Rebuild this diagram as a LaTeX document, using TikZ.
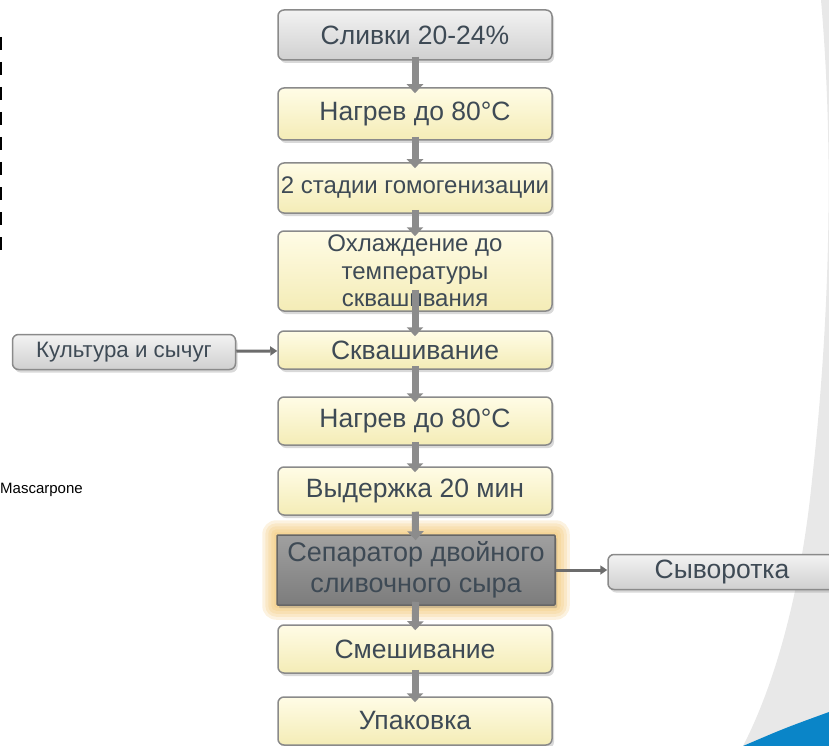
\documentclass[tikz,border=0pt]{standalone}
\usepackage{fontspec}
\setmainfont{Liberation Sans}
\usetikzlibrary{arrows.meta,shadows,backgrounds}
\definecolor{textgray}{HTML}{3E4A55}
\definecolor{edgegray}{HTML}{8A8A8A}
\definecolor{yeltop}{HTML}{FFFCE6}
\definecolor{yelbot}{HTML}{F4ECB6}
\definecolor{graytop}{HTML}{F2F2F2}
\definecolor{graybot}{HTML}{D0D0D0}
\definecolor{darktop}{HTML}{A0A0A0}
\definecolor{darkbot}{HTML}{7C7C7C}
\definecolor{arrowgray}{HTML}{8C8C8C}
\definecolor{glowcolor}{HTML}{F0C064}
\definecolor{bggray}{HTML}{E8E8E8}
\definecolor{bgblue}{HTML}{0A85C8}
\newcommand{\bigfont}{\fontsize{26.5}{29}\selectfont}
\newcommand{\midfont}{\fontsize{24}{27.5}\selectfont}
\newcommand{\sidefont}{\fontsize{22.3}{25}\selectfont}
\tikzset{
    stepbase/.style={draw=edgegray, line width=1.5pt, rounded corners=6pt,
        minimum width=274pt, inner sep=1pt, text=textgray, align=center,
        font=\bigfont,
        drop shadow={shadow xshift=2pt, shadow yshift=-3pt, opacity=0.3}},
    yellowbox/.style={stepbase, top color=yeltop, bottom color=yelbot},
    graybox/.style={stepbase, top color=graytop, bottom color=graybot},
    darkbox/.style={stepbase, rounded corners=1pt, draw=gray!80!black,
        top color=darktop, bottom color=darkbot,
        font=\fontsize{27}{31.5}\selectfont},
    sidebox/.style={graybox, font=\sidefont, minimum height=35pt},
    flowarr/.style={draw=arrowgray, line width=7pt,
        -{Triangle[length=9pt,width=16pt]}, shorten <=-4pt, shorten >=-6pt},
    sidearr/.style={draw=gray!85!black, line width=3pt,
        -{Triangle[length=7pt,width=9pt]}},
    glow/.style={fill=glowcolor, opacity=0.2}
}

\begin{document}
\begin{tikzpicture}[x=1pt,y=-1pt]
    \useasboundingbox (0,0) rectangle (829,746);
    % backdrop on the right
    \fill[bggray] (821,0) .. controls (834,150) and (830,320) .. (812,480)
        .. controls (800,600) and (772,690) .. (743,746) -- (829,746) -- (829,0) -- cycle;
    \fill[bgblue] (743,746) .. controls (785,728) .. (829,712) -- (829,746) -- cycle;
    % marks on the left edge
    \foreach \y in {37,62,...,237}
        \draw[line width=2pt] (1,\y) -- (1,\y+13);
    \node[anchor=west, font=\fontsize{15}{17}\selectfont, inner sep=0pt] (mascarpone) at (0,490) {Mascarpone};

    % main steps
    \node[graybox,   minimum height=50pt] (slivki)  at (415,35)  {Сливки 20-24\%};
    \node[yellowbox, minimum height=52pt] (nagrev)  at (415,114) {Нагрев до 80°C};
    \node[yellowbox, minimum height=50pt, font=\midfont] (gomog) at (415,188) {2 стадии гомогенизации};
    \node[yellowbox, minimum height=80pt, font=\midfont] (ohlazh) at (415,271) {Охлаждение до\\температуры\\сквашивания};
    \node[yellowbox, minimum height=38pt] (skvash)  at (415,350) {Сквашивание};
    \node[yellowbox, minimum height=48pt] (nagrevb) at (415,421) {Нагрев до 80°C};
    \node[yellowbox, minimum height=48pt] (vyderzh) at (415,491) {Выдержка 20 мин};
    \node[darkbox,   minimum height=70pt, minimum width=278pt] (separ) at (416,570) {Сепаратор двойного\\сливочного сыра};
    \node[yellowbox, minimum height=48pt] (smesh)   at (415,649) {Смешивание};
    \node[yellowbox, minimum height=48pt] (upak)    at (415,721) {Упаковка};

    % side steps
    \node[sidebox, minimum width=223pt] (kultura) at (124,352) {Культура и сычуг};
    \node[sidebox, minimum width=228pt, font=\bigfont] (syvor) at (722,572) {Сыворотка};

    % glow round the separator
    \begin{scope}[on background layer]
        \foreach \g in {14,11,8,5,2}
            \fill[glow, rounded corners=\g pt] ([shift={(-\g,-\g)}]separ.north west)
                rectangle ([shift={(\g,\g)}]separ.south east);
    \end{scope}

    % arrows
    \draw[flowarr] (slivki) -- (nagrev);
    \draw[flowarr] (nagrev) -- (gomog);
    \draw[flowarr] (gomog) -- (ohlazh);
    \draw[flowarr, shorten <=-22pt] (ohlazh) -- (skvash);
    \draw[flowarr] (skvash) -- (nagrevb);
    \draw[flowarr] (nagrevb) -- (vyderzh);
    \draw[flowarr] (vyderzh) -- (separ);
    \draw[flowarr] (separ) -- (smesh);
    \draw[flowarr] (smesh) -- (upak);
    \draw[sidearr] (kultura) -- (skvash);
    \draw[sidearr] (separ.east) -- (separ.east -| syvor.west);
\end{tikzpicture}
\end{document}
